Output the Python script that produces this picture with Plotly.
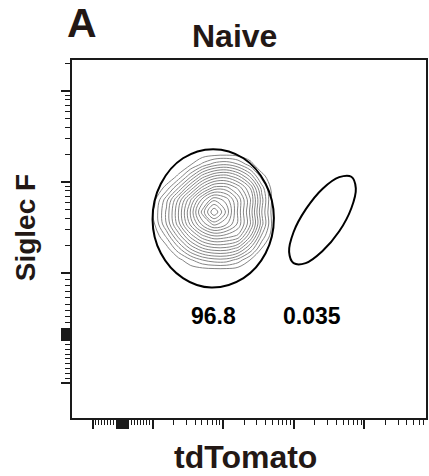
import math
import plotly.graph_objects as go

# ---------------- data ----------------
# tick values (fluorescence intensity)
x_major_ticks = [-1000, 0, 1000, 10000, 100000, 1000000]
y_major_ticks = [-1000, 0, 1000, 10000, 100000]

# gate percentages
gate_labels = ["96.8", "0.035"]

# density grid (display channel units, 0..1024)
dens_x = [204, 239, 273, 308, 342, 377, 411, 446, 480, 515, 549, 584, 618]
dens_y = [383, 418, 452, 486, 521, 555, 589, 624, 658, 692, 726, 761]
dens_z = [
    [0, 0, 0, 0, 0, 0, 0, 0, 0, 0, 0, 0, 0],
    [0, 0, 0, 0, 0, 0, 0, 0, 0, 0, 0, 0, 0],
    [0, 0, 0, 3, 9, 15, 18, 18, 13, 5, 0, 0, 0],
    [0, 0, 3, 14, 26, 35, 39, 39, 34, 20, 5, 0, 0],
    [0, 1, 11, 27, 42, 54, 60, 58, 54, 36, 14, 0, 0],
    [0, 5, 20, 38, 56, 72, 82, 76, 64, 46, 22, 1, 0],
    [0, 6, 21, 40, 60, 82, 100, 84, 64, 44, 20, 0, 0],
    [0, 4, 18, 36, 54, 72, 84, 78, 64, 46, 22, 1, 0],
    [0, 0, 7, 20, 36, 52, 62, 62, 54, 40, 18, 0, 0],
    [0, 0, 0, 6, 18, 32, 40, 42, 36, 24, 7, 0, 0],
    [0, 0, 0, 0, 4, 11, 17, 19, 15, 7, 0, 0, 0],
    [0, 0, 0, 0, 0, 0, 0, 0, 0, 0, 0, 0, 0],
]

# gates (display channel units)
gate_neg_x = [584, 560, 496, 408, 321, 257, 233, 257, 321, 403, 496, 560]
gate_neg_y = [572, 670, 743, 769, 743, 670, 568, 471, 400, 373, 400, 471]
gate_pos_x = [808, 821, 808, 773, 724, 676, 641, 628, 641, 677, 725, 773]
gate_pos_y = [690, 657, 600, 534, 477, 443, 443, 475, 532, 598, 656, 689]

# label anchor points (display channel units)
label_x = [408, 693]
label_y = [292, 292]

# ---------------- scales ----------------
X_ZERO, X_DEC, X_LIN = 146.7, 204.2, 0.4225
Y_ZERO, Y_DEC, Y_LIN_POS, Y_LIN_NEG = 237.4, 260.3, 0.681, 0.527


def x_scale(v):
    a = abs(v)
    s = 1 if v >= 0 else -1
    d = X_LIN * a / 1000 if a <= 1000 else X_LIN + math.log10(a / 1000)
    return X_ZERO + s * d * X_DEC


def y_scale(v):
    a = abs(v)
    lin = Y_LIN_POS if v >= 0 else Y_LIN_NEG
    s = 1 if v >= 0 else -1
    d = lin * a / 1000 if a <= 1000 else lin + math.log10(a / 1000)
    return Y_ZERO + s * d * Y_DEC


# dense cluster of ticks around zero (drawn long, like FlowJo)
x_zero_cluster = []
for v in range(20, 200, 20):
    x_zero_cluster += [v, -v]
y_zero_cluster = []
for v in range(10, 110, 10):
    y_zero_cluster += [v, -v]

x_minor = []
for v in range(200, 1000, 100):
    x_minor += [v, -v]
for k in range(3, 7):
    for m in range(2, 10):
        x_minor.append(m * 10 ** k)
for m in range(2, 10):
    x_minor.append(-m * 1000)

y_minor = []
for v in range(200, 1000, 100):
    y_minor += [v, -v]
for k in range(3, 5):
    for m in range(2, 10):
        y_minor.append(m * 10 ** k)
y_minor.append(200000)

XR = [0, 1024]
YR = [0, 1024]
x_major_pos = [x_scale(v) for v in x_major_ticks + x_zero_cluster]
x_minor_pos = [p for p in (x_scale(v) for v in x_minor) if XR[0] <= p <= XR[1]]
y_major_pos = [y_scale(v) for v in y_major_ticks + y_zero_cluster]
y_minor_pos = [p for p in (y_scale(v) for v in y_minor) if YR[0] <= p <= YR[1]]

TXT = "#231815"
FONT = "Liberation Sans, Arial, sans-serif"

fig = go.Figure()
fig.add_trace(go.Contour(
    x=dens_x, y=dens_y, z=dens_z,
    contours=dict(coloring="lines", start=5, end=96, size=5),
    colorscale=[[0, "#858585"], [1, "#858585"]],
    line=dict(width=1, smoothing=1.0),
    showscale=False, hoverinfo="skip",
))
for gx, gy in [(gate_neg_x, gate_neg_y), (gate_pos_x, gate_pos_y)]:
    fig.add_trace(go.Scatter(
        x=gx + gx[:1], y=gy + gy[:1], mode="lines",
        line=dict(color="black", width=2, shape="spline", smoothing=1.0),
        hoverinfo="skip", showlegend=False,
    ))

for lx, ly, t in zip(label_x, label_y, gate_labels):
    fig.add_annotation(x=lx, y=ly, text=t, showarrow=False,
                       xanchor="center", yanchor="middle",
                       font=dict(family=FONT, size=23, color="black", weight="bold"))

axis_common = dict(
    showgrid=False, zeroline=False, showline=True, linecolor="#1a1a1a",
    linewidth=1.5, mirror=True, ticks="outside", ticklen=9, tickwidth=2,
    tickcolor="#1a1a1a", showticklabels=False, fixedrange=True,
)
fig.update_xaxes(range=XR, tickvals=x_major_pos,
                 minor=dict(tickvals=x_minor_pos, ticks="outside", ticklen=5,
                            tickwidth=1, tickcolor="#1a1a1a", showgrid=False),
                 **axis_common)
fig.update_yaxes(range=YR, tickvals=y_major_pos,
                 minor=dict(tickvals=y_minor_pos, ticks="outside", ticklen=5,
                            tickwidth=1, tickcolor="#1a1a1a", showgrid=False),
                 **axis_common)

titles = [
    # text, x, y, size, angle
    ("tdTomato", 0.489, -0.108, 32, 0),
    ("Siglec F", -0.129, 0.531, 28, -90),
    ("Naive", 0.458, 1.067, 32, 0),
    ("A", 0.027, 1.103, 41, 0),
]
for t, px, py, sz, ang in titles:
    fig.add_annotation(xref="paper", yref="paper", x=px, y=py, text=t,
                       showarrow=False, textangle=ang,
                       xanchor="center", yanchor="middle",
                       font=dict(family=FONT, size=sz, color=TXT, weight="bold"))

fig.update_layout(
    width=429, height=476,
    margin=dict(l=72, r=1, t=60, b=58),
    plot_bgcolor="white", paper_bgcolor="white",
    showlegend=False,
)

fig.write_html("out.html")
